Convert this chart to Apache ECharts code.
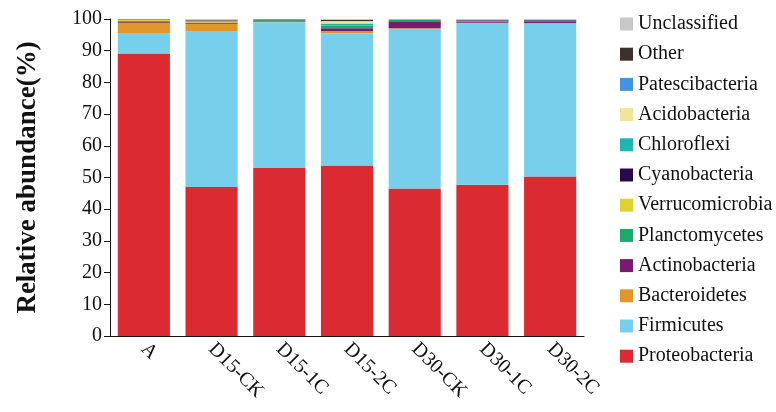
<!DOCTYPE html>
<html>
<head>
<meta charset="utf-8">
<script src="https://cdn.jsdelivr.net/npm/echarts@6/dist/echarts.min.js"></script>
<style>
  html, body { margin: 0; padding: 0; background: #fff; }
  #chart { width: 776px; height: 412px; }
</style>
</head>
<body>
<div id="chart"></div>
<script>
// samples on the x axis
const categories = ["A", "D15-CK", "D15-1C", "D15-2C", "D30-CK", "D30-1C", "D30-2C"];

// relative abundance (%) per phylum, bottom of stack first
const proteobacteria  = [89.1, 47.0, 53.0, 53.8, 46.5, 47.7, 50.3];
const firmicutes      = [6.5, 49.2, 46.0, 41.7, 50.4, 51.0, 48.2];
const bacteroidetes   = [3.2, 2.3, 0.2, 0.7, 0.2, 0.1, 0.2];
const actinobacteria  = [0.4, 0.3, 0.2, 0.9, 2.2, 0.3, 0.6];
const planctomycetes  = [0.2, 0.1, 0.2, 0.8, 0.5, 0.3, 0.2];
const verrucomicrobia = [0.3, 0.4, 0.0, 0.1, 0.0, 0.0, 0.0];
const cyanobacteria   = [0.0, 0.2, 0.1, 0.1, 0.0, 0.1, 0.2];
const chloroflexi     = [0.1, 0.0, 0.0, 0.5, 0.0, 0.0, 0.0];
const acidobacteria   = [0.0, 0.1, 0.0, 0.7, 0.1, 0.0, 0.0];
const patescibacteria = [0.0, 0.0, 0.1, 0.1, 0.0, 0.1, 0.0];
const other           = [0.1, 0.2, 0.1, 0.4, 0.1, 0.2, 0.1];
const unclassified    = [0.1, 0.2, 0.1, 0.2, 0.0, 0.2, 0.2];

const yTicks = [0, 10, 20, 30, 40, 50, 60, 70, 80, 90, 100];

const seriesList = [
  ["Proteobacteria", proteobacteria, "#dc2a32"],
  ["Firmicutes", firmicutes, "#78cfec"],
  ["Bacteroidetes", bacteroidetes, "#e0962a"],
  ["Actinobacteria", actinobacteria, "#7a1a6e"],
  ["Planctomycetes", planctomycetes, "#1aaa6a"],
  ["Verrucomicrobia", verrucomicrobia, "#dcd42a"],
  ["Cyanobacteria", cyanobacteria, "#2a0a4e"],
  ["Chloroflexi", chloroflexi, "#1bb6b0"],
  ["Acidobacteria", acidobacteria, "#efe69a"],
  ["Patescibacteria", patescibacteria, "#4394de"],
  ["Other", other, "#3d3130"],
  ["Unclassified", unclassified, "#c8c8c8"]
];

const font = "'Liberation Serif', 'Times New Roman', serif";

const chart = echarts.init(document.getElementById("chart"));

chart.setOption({
  animation: false,
  textStyle: { fontFamily: font },
  grid: { left: 110, right: 192, top: 19, bottom: 76 },
  legend: {
    orient: "vertical",
    left: 615,
    top: 9,
    padding: [5, 0, 0, 5],
    itemWidth: 13,
    itemHeight: 13,
    itemGap: 10.2,
    icon: "rect",
    data: seriesList.map(s => s[0]).reverse(),
    textStyle: { fontFamily: font, fontSize: 20, color: "#111", lineHeight: 20 }
  },
  xAxis: {
    type: "category",
    data: categories,
    axisLine: { lineStyle: { color: "#111", width: 1 } },
    axisTick: { alignWithLabel: true, length: 7, lineStyle: { color: "#111" } },
    axisLabel: {
      rotate: -45,
      fontSize: 20,
      color: "#111",
      fontFamily: font,
      margin: 10
    }
  },
  yAxis: {
    type: "value",
    min: yTicks[0],
    max: yTicks[yTicks.length - 1],
    interval: 10,
    name: "Relative abundance(%)",
    nameLocation: "middle",
    nameGap: 68,
    nameTextStyle: { fontSize: 27, fontWeight: "bold", color: "#111", fontFamily: font },
    axisLine: { show: true, lineStyle: { color: "#111", width: 1 } },
    axisTick: { show: true, length: 6, lineStyle: { color: "#111" } },
    axisLabel: { fontSize: 20, color: "#111", fontFamily: font, margin: 8 },
    splitLine: { show: false }
  },
  series: seriesList.map(([name, values, color]) => ({
    name: name,
    type: "bar",
    stack: "total",
    barCategoryGap: "23%",
    data: values,
    itemStyle: { color: color }
  }))
});
</script>
</body>
</html>
